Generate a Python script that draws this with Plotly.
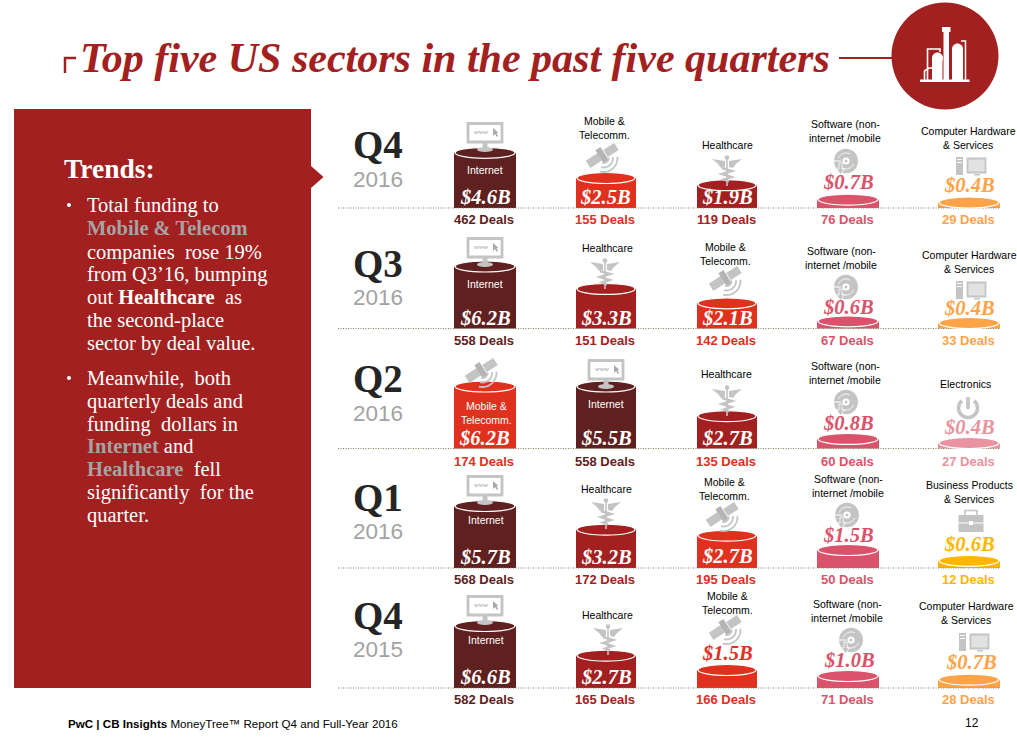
import numpy as np
import plotly.graph_objects as go

# ---- data, newest quarter first
QUARTERS = ["Q4", "Q3", "Q2", "Q1", "Q4"]
YEARS = ["2016", "2016", "2016", "2016", "2015"]
SECTORS = [
    ["Internet", "Mobile", "Healthcare", "Software", "Hardware"],
    ["Internet", "Healthcare", "Mobile", "Software", "Hardware"],
    ["Mobile", "Internet", "Healthcare", "Software", "Electronics"],
    ["Internet", "Healthcare", "Mobile", "Software", "Business"],
    ["Internet", "Healthcare", "Mobile", "Software", "Hardware"],
]
FUNDING = [
    [4.6, 2.5, 1.9, 0.7, 0.4],
    [6.2, 3.3, 2.1, 0.6, 0.4],
    [6.2, 5.5, 2.7, 0.8, 0.4],
    [5.7, 3.2, 2.7, 1.5, 0.6],
    [6.6, 2.7, 1.5, 1.0, 0.7],
]
DEALS = [
    [462, 155, 119, 76, 29],
    [558, 151, 142, 67, 33],
    [174, 558, 135, 60, 27],
    [568, 172, 195, 50, 12],
    [582, 165, 166, 71, 28],
]
SECTOR_TEXT = {
    "Internet": ["Internet"],
    "Mobile": ["Mobile &", "Telecomm."],
    "Healthcare": ["Healthcare"],
    "Software": ["Software (non-", "internet /mobile"],
    "Hardware": ["Computer Hardware", "& Services"],
    "Electronics": ["Electronics"],
    "Business": ["Business Products", "& Services"],
}

# ---- styles and placement
COLORS = {
    "Internet": "#5f2120", "Mobile": "#e0301e", "Healthcare": "#a32020",
    "Software": "#db536a", "Hardware": "#ffa347", "Electronics": "#e993a1",
    "Business": "#ffb600",
}
RED = "#a32020"
GRAY = "#c4c4c4"
SERIF = "Liberation Serif"
SANS = "Liberation Sans"
BASELINE = [208, 328.5, 448.5, 568, 688]
DEAL_Y = [219, 340, 461, 579, 699]
QUARTER_Y = [144, 263, 378, 497, 615]
YEAR_Y = [179, 297, 413, 531, 649]
COL_X = [485, 606, 727, 848, 969]
HALF_W = [31, 30, 30, 31, 31]
PX_PER_B = 12
CAP_H = 62
RY = 5.5
# first label line (x, y), icon centre (x, y), value label (x, y)
LABEL_POS = [
    [(485, 170), (604, 121), (727, 145), (845, 124), (968, 131)],
    [(485, 284), (607, 248), (725, 247), (841, 251), (969, 255)],
    [(486, 406), (606, 404), (726, 374), (845, 366), (965, 384)],
    [(486, 520), (606, 489), (724, 482), (848, 479), (969, 485)],
    [(486, 640), (607, 615), (727, 596), (847, 604), (966, 606)],
]
ICON_POS = [
    [(485, 137), (603, 162), (727, 171), (846, 161), (971, 166)],
    [(485, 252), (605, 274), (726, 285), (846, 287), (971, 290)],
    [(482, 377), (606, 374), (727, 401), (846, 402), (968, 407)],
    [(485, 490), (606, 514), (723, 521), (847, 515), (971, 521)],
    [(485, 610), (608, 640), (726, 634), (851, 640), (974, 642)],
]
VALUE_POS = [
    [(485, 197), (605, 197), (727, 197), (848, 182), (969, 185)],
    [(485, 318), (606, 318), (727, 318), (848, 307), (969, 308)],
    [(484, 438), (606, 438), (727, 438), (848, 423), (969, 427)],
    [(485, 557), (606, 557), (727, 556), (848, 535), (969, 544)],
    [(485, 677), (606, 677), (727, 653), (849, 660), (971, 662)],
]

shapes = []
notes = []


def text(x, y, s, size, color="#000000", family=SANS, anchor="center"):
    notes.append(dict(x=x, y=y, text=s, showarrow=False, xanchor=anchor, yanchor="middle",
                      font=dict(size=size, color=color, family=family)))


def poly(pts, fill=GRAY, line=None, width=0, closed=True):
    d = "M" + " L".join(f"{a:.2f},{b:.2f}" for a, b in pts) + (" Z" if closed else "")
    shapes.append(dict(type="path", path=d, fillcolor=fill if closed else "rgba(0,0,0,0)",
                       line=dict(color=line or fill, width=width), xref="x", yref="y"))


def stroke(pts, color=GRAY, width=1.5):
    poly(pts, fill=color, line=color, width=width, closed=False)


def arc(cx, cy, r, a0, a1, n=24):
    t = np.radians(np.linspace(a0, a1, n))
    return list(zip(cx + r * np.cos(t), cy + r * np.sin(t)))


def oval(cx, cy, rx, ry, fill=GRAY, line=None, width=0):
    shapes.append(dict(type="circle", x0=cx - rx, x1=cx + rx, y0=cy - ry, y1=cy + ry,
                       fillcolor=fill, line=dict(color=line or fill, width=width), xref="x", yref="y"))


def box(x0, y0, x1, y1, fill=GRAY, line=None, width=0):
    shapes.append(dict(type="rect", x0=x0, x1=x1, y0=y0, y1=y1, fillcolor=fill,
                       line=dict(color=line or fill, width=width), xref="x", yref="y"))


def rotated(cx, cy, w, h, deg):
    t = np.radians(deg)
    c, s = np.cos(t), np.sin(t)
    return [(cx + a * c - b * s, cy + a * s + b * c)
            for a, b in [(-w / 2, -h / 2), (w / 2, -h / 2), (w / 2, h / 2), (-w / 2, h / 2)]]


def icon_internet(x, y):
    box(x - 17, y - 13.5, x + 17, y + 5, fill="#ffffff", line=GRAY, width=2.8)
    box(x - 2.5, y + 6, x + 2.5, y + 11)
    oval(x, y + 12.5, 8, 2.6)
    text(x - 4, y - 5, "<i>www</i>", 7, "#9a9a9a", SERIF)
    poly([(x + 8, y - 9), (x + 8, y - 1), (x + 10, y - 3), (x + 12, y), (x + 13, y - 1),
          (x + 11.5, y - 4), (x + 13.5, y - 4)], fill="#a8a8a8")


def icon_mobile(x, y):
    poly(rotated(x - 9, y - 1.5, 14, 8.5, -33))
    poly(rotated(x + 8, y - 12, 13, 8.5, -33))
    poly(rotated(x - 1, y - 7, 6, 15, -33), fill="#b4b4b4")
    for r in (5, 9.5, 14):
        stroke(arc(x + 0.5, y - 4, r, -5, 105), width=1.8)


def icon_health(x, y):
    for k in (-1, 1):
        poly([(x + k * 15, y - 12), (x + k * 2, y - 10), (x + k * 2, y - 4), (x + k * 6, y - 3),
              (x + k * 9, y - 7)])
    stroke([(x, y - 14), (x, y + 15)], width=1.6)
    oval(x, y - 13.5, 2.3, 2.3)
    stroke([(x - 5, y - 3), (x + 5, y), (x - 5, y + 3), (x + 4.5, y + 6), (x - 3, y + 8.5), (x + 2, y + 10.5)],
           width=2.4)


def icon_software(x, y):
    oval(x, y, 12, 12.2)
    oval(x, y, 3.6, 3.6, fill="#ffffff")
    oval(x, y, 1.5, 1.5)
    stroke(arc(x, y, 8, 200, 300), color="#ffffff", width=1)
    stroke(arc(x, y, 8, 20, 120), color="#ffffff", width=1)
    stroke([(x - 12, y), (x - 5, y)], color="#ffffff", width=1)
    poly([(x - 7, y + 2), (x - 4, y + 2), (x - 4, y + 8), (x - 1.5, y + 8), (x - 5.5, y + 13.5),
          (x - 9.5, y + 8), (x - 7, y + 8)], line="#ffffff", width=0.8)


def icon_hardware(x, y):
    box(x - 15, y - 9, x - 8, y + 9)
    box(x - 14, y - 7, x - 9, y - 6, fill="#ffffff")
    box(x - 14, y - 4, x - 9, y - 3, fill="#ffffff")
    box(x - 3.5, y - 7.5, x + 14.5, y + 6.5, fill="#e2e2e2", line=GRAY, width=1.8)
    box(x + 3, y + 8, x + 9, y + 9.5)


def icon_electronics(x, y):
    stroke(arc(x, y + 1, 9.5, -50, 230), width=3.6)
    stroke([(x, y - 10), (x, y + 2)], width=3.6)


def icon_business(x, y):
    box(x - 12.5, y - 6, x + 12.5, y + 11)
    stroke([(x - 6, y - 6), (x - 6, y - 10.5), (x + 6, y - 10.5), (x + 6, y - 6)], width=1.6)
    stroke([(x - 12.5, y + 2), (x + 12.5, y + 2)], color="#ffffff", width=1)
    box(x - 2, y, x + 2, y + 4, fill="#ffffff")


ICONS = {
    "Internet": icon_internet, "Mobile": icon_mobile, "Healthcare": icon_health,
    "Software": icon_software, "Hardware": icon_hardware, "Electronics": icon_electronics,
    "Business": icon_business,
}


def bar_height(v):
    # the big bars are cut off at the top of the row on the slide
    return float(np.clip(v * PX_PER_B, RY, CAP_H))


# ---- left panel, title, header badge
box(14, 109, 311, 688, fill=RED)
poly([(311, 166), (323.5, 177), (311, 188)], fill=RED)
stroke([(65, 73), (65, 58), (76, 58)], color=RED, width=2.5)
stroke([(839, 58), (895, 58)], color=RED, width=2.2)
oval(945, 56, 53.5, 53.5, fill=RED)
WHITE = "#ffffff"
box(920, 79.5, 969.5, 82, fill=WHITE)
box(943.5, 31, 949, 80, fill=WHITE)
box(942, 27, 950.5, 32, fill=WHITE)
poly([(952, 80), (952, 49)] + arc(957.5, 49, 5.5, 180, 360, 10) + [(963, 80)], fill=WHITE)
stroke([(961, 41), (965.5, 41), (965.5, 80)], color=WHITE, width=1.5)
poly([(932, 80), (932, 58)] + arc(937.5, 58, 5.5, 180, 360, 10) + [(942.5, 62), (942.5, 80)], fill=WHITE)
stroke([(927.5, 80), (927.5, 49), (940, 49), (940, 52)], color=WHITE, width=1.6)
stroke([(924.5, 80), (924.5, 71), (929, 68), (938, 68)], color=WHITE, width=1.6)

text(78, 58, "<b><i>Top five US sectors in the past five quarters</i></b>", 42, RED, SERIF, "left")
text(62, 168, "<b>Trends:</b>", 27.5, WHITE, SERIF, "left")
MUTED = "#a6a3a3"
PANEL_LINES = [
    (205, "Total funding to"),
    (228, f"<b><span style='color:{MUTED}'>Mobile &amp; Telecom</span></b>"),
    (252, "companies  rose 19%"),
    (274, "from Q3’16, bumping"),
    (297, "out <b>Healthcare</b>  as"),
    (320, "the second-place"),
    (343, "sector by deal value."),
    (378, "Meanwhile,  both"),
    (401, "quarterly deals and"),
    (424, "funding  dollars in"),
    (446, f"<b><span style='color:{MUTED}'>Internet</span></b> and"),
    (469, f"<b><span style='color:{MUTED}'>Healthcare</span></b>  fell"),
    (492, "significantly  for the"),
    (515, "quarter."),
]
for y, s in PANEL_LINES:
    text(85, y, s, 20.5, WHITE, SERIF, "left")
oval(69, 205, 2, 2, fill=WHITE)
oval(69, 378, 2, 2, fill=WHITE)

text(66, 723, "<b>PwC | CB Insights</b> MoneyTree™ Report Q4 and Full-Year 2016", 11.6, "#000000", SANS, "left")
text(972, 723, "12", 12)

# ---- rows
bar_x, bar_h, bar_base, bar_w, bar_c = [], [], [], [], []
for r, quarter in enumerate(QUARTERS):
    base = BASELINE[r]
    shapes.append(dict(type="line", x0=338, x1=1000, y0=base, y1=base, xref="x", yref="y",
                       line=dict(color="#8c7f62", width=1.2, dash="1px,1.5px")))
    text(378, QUARTER_Y[r], f"<b>{quarter}</b>", 39, "#252525", SERIF)
    text(378, YEAR_Y[r], YEARS[r], 22.5, "#a3a3a3")
    for c, sector in enumerate(SECTORS[r]):
        color = COLORS[sector]
        h = bar_height(FUNDING[r][c])
        bar_x.append(COL_X[c])
        bar_h.append(-h)
        bar_base.append(base)
        bar_w.append(HALF_W[c] * 2)
        bar_c.append(color)
        oval(COL_X[c], base - h, HALF_W[c] - 1, RY, fill=color, line=WHITE, width=1.2)
        ICONS[sector](*ICON_POS[r][c])

        vx, vy = VALUE_POS[r][c]
        # small bars carry the amount above them, in the sector colour
        on_bar = vy > base - h
        text(vx, vy, f"<b><i>${FUNDING[r][c]:.1f}B</i></b>", 20.5, WHITE if on_bar else color, SERIF)

        lx, ly = LABEL_POS[r][c]
        in_bar = ly > base - h
        for i, line in enumerate(SECTOR_TEXT[sector]):
            text(lx, ly + i * 13.5, line, 10.5, WHITE if in_bar else "#000000")

        # 135 Deals is printed in the telecom red on the slide
        deal_color = COLORS["Mobile"] if DEALS[r][c] == 135 else color
        text(COL_X[c] - 1, DEAL_Y[r], f"<b>{DEALS[r][c]} Deals</b>", 13, deal_color)

fig = go.Figure(go.Bar(x=bar_x, y=bar_h, base=bar_base, width=bar_w, marker=dict(color=bar_c, line=dict(width=0)),
                       showlegend=False, hoverinfo="skip"))
fig.update_layout(
    width=1017, height=756, margin=dict(l=0, r=0, t=0, b=0),
    paper_bgcolor="#ffffff", plot_bgcolor="#ffffff",
    xaxis=dict(range=[0, 1017], visible=False, fixedrange=True),
    yaxis=dict(range=[756, 0], visible=False, fixedrange=True),
    shapes=shapes, annotations=notes,
)
fig.write_html("out.html", config=dict(displayModeBar=False),
               post_script="document.body.style.margin='0';")
